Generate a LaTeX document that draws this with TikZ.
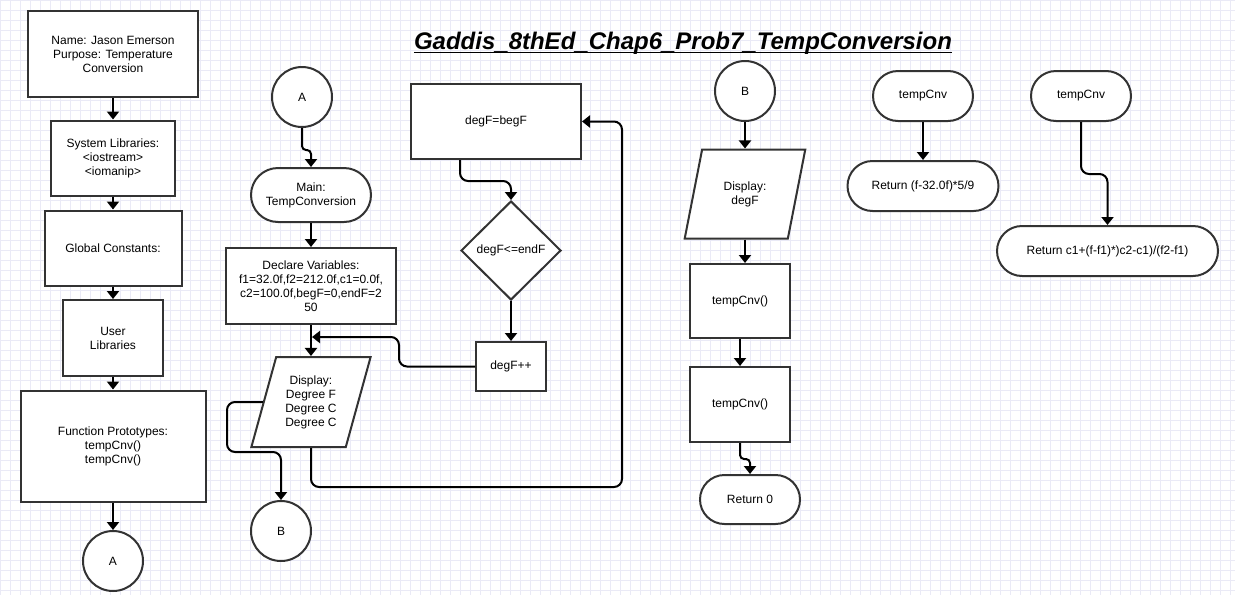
\documentclass[tikz,border=0pt]{standalone}
\usepackage{fontspec}
\setmainfont{Liberation Sans}
\usetikzlibrary{shapes.geometric, shapes.misc, arrows.meta, positioning}

\definecolor{boxline}{HTML}{333333}
\definecolor{gridline}{HTML}{EAEAF6}

\begin{document}
\begin{tikzpicture}[x=1pt,y=-1pt,on grid,
   font=\fontsize{12pt}{14pt}\selectfont,
   box/.style={draw=boxline,line width=2pt,fill=white,align=center,inner sep=0pt},
   term/.style={rounded rectangle,draw=boxline,line width=2pt,fill=white,align=center,inner sep=0pt},
   io/.style={trapezium,trapezium left angle=71,trapezium right angle=109,trapezium stretches=true,
              draw=boxline,line width=2pt,fill=white,align=center,inner sep=0pt},
   decide/.style={diamond,draw=boxline,line width=2pt,fill=white,align=center,inner sep=0pt},
   joint/.style={circle,draw=boxline,line width=2pt,fill=white,minimum size=60pt,inner sep=0pt},
   arr/.style={draw,-{Triangle[length=8pt,width=12pt]},line width=2pt,rounded corners=8pt}]

   % page and grid
   \useasboundingbox[fill=white] (0,0) rectangle (1235,595);
   \draw[gridline,line width=1pt,step=10pt] (0pt,-595pt) grid (1235pt,0pt);

   \node[font=\fontsize{24pt}{28pt}\selectfont\bfseries\itshape,inner sep=0pt,anchor=base] (title) at (683,49)
      {Gaddis\_8thEd\_Chap6\_Prob7\_TempConversion};
   \draw[line width=1.6pt] ([yshift=-3.5pt]title.base west) -- ([yshift=-3.5pt]title.base east);

   % left column
   \node[box,minimum width=170pt,minimum height=86pt] (hdr) at (113,54)
      {Name: Jason Emerson\\Purpose: Temperature\\Conversion};
   \node[box,minimum width=124pt,minimum height=75pt] (syslib) [below=104pt of hdr]
      {System Libraries:\\<iostream>\\<iomanip>};
   \node[box,minimum width=137pt,minimum height=75pt] (glob) [below=90pt of syslib] {Global Constants:};
   \node[box,minimum width=100pt,minimum height=76pt] (usrlib) [below=90pt of glob] {User\\Libraries};
   \node[box,minimum width=185pt,minimum height=111pt] (proto) [below=108pt of usrlib]
      {Function Prototypes:\\tempCnv()\\tempCnv()};
   \node[joint] (A_out) [below=115pt of proto] {A};

   \path[arr]
   (hdr) edge (syslib)
   (syslib) edge (glob)
   (glob) edge (usrlib)
   (usrlib) edge (proto)
   (proto) edge (A_out);

   % main
   \node[joint] (A_in) at (302,97) {A};
   \node[term,minimum width=120pt,minimum height=54pt] (main) at (311,195) {Main:\\TempConversion};
   \node[box,minimum width=170pt,minimum height=76pt] (decl) [below=91pt of main]
      {Declare Variables:\\f1=32.0f,f2=212.0f,c1=0.0f,\\c2=100.0f,begF=0,endF=2\\50};
   \node[io,minimum width=120pt,minimum height=90pt] (disp1) [below=116pt of decl]
      {Display:\\Degree F\\Degree C\\Degree C};
   \node[joint] (B_out) at (281,531) {B};
   \coordinate (join) at (312,337);

   \node[box,minimum width=170pt,minimum height=75pt] (beg) at (496,121.5) {degF=begF};
   \node[decide,minimum width=100pt,minimum height=99pt] (test) at (511,250.5) {degF<=endF};
   \node[box,minimum width=70pt,minimum height=49pt] (inc) [below=116pt of test] {degF++};

   \draw[arr,rounded corners=4pt] (A_in.south) -- ++(0,22) -| (main.north);
   \path[arr]
   (main) edge (decl)
   (decl) edge (disp1)
   (test) edge (inc);
   \draw[arr] (inc.west) -- ++(-76,0) |- (join);
   \draw[arr] (disp1.west) -| (227,452) -| (B_out.north);
   \draw[arr] (disp1.south) |- (622,487) |- (beg.east);
   \draw[arr] ([xshift=-36pt]beg.south) -- ++(0,21) -| (test.north);

   % after loop
   \node[joint] (B_in) at (745,91) {B};
   \node[io,minimum width=121pt,minimum height=89pt] (disp2) [below=103pt of B_in] {Display:\\degF};
   \node[box,minimum width=100pt,minimum height=74pt] (cnv1) at (740,301) {tempCnv()};
   \node[box,minimum width=100pt,minimum height=75pt] (cnv2) [below=103.5pt of cnv1] {tempCnv()};
   \node[term,minimum width=100pt,minimum height=49pt] (ret0) at (750,499.5) {Return 0};

   \path[arr]
   (B_in) edge (disp2)
   (cnv1) edge (cnv2);
   \draw[arr] (disp2.south) -- (disp2.south |- cnv1.north);
   \draw[arr,rounded corners=4pt] (cnv2.south) -- ++(0,16) -| (ret0.north);

   % functions
   \node[term,minimum width=100pt,minimum height=50pt] (tc1) at (923,96) {tempCnv};
   \node[term,minimum width=151pt,minimum height=50pt] (r1) [below=90pt of tc1] {Return (f-32.0f)*5/9};
   \node[term,minimum width=100pt,minimum height=50pt] (tc2) at (1081,96) {tempCnv};
   \node[term,minimum width=221pt,minimum height=50pt] (r2) at (1107.5,251)
      {Return c1+(f-f1)*)c2-c1)/(f2-f1)};

   \path[arr] (tc1) edge (r1);
   \draw[arr] (tc2.south) -- ++(0,52) -| (r2.north);

\end{tikzpicture}
\end{document}
